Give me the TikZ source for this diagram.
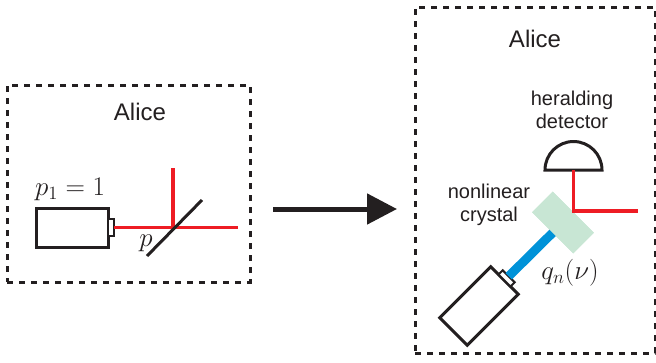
\documentclass[tikz,border=0pt]{standalone}
\usepackage{fontspec}
\setmainfont{Liberation Sans}
\usetikzlibrary{arrows.meta}
\definecolor{beamred}{HTML}{EE1C24}
\definecolor{pumpblue}{HTML}{0092D8}
\definecolor{crystalgreen}{HTML}{C8E6D4}
\definecolor{ink}{HTML}{231F20}
\newcommand{\bigmath}[1]{\scalebox{1.3}{$#1$}}
\begin{document}
\begin{tikzpicture}[x=1pt,y=-1pt,
  dashbox/.style={draw=ink, line width=3pt, dash pattern=on 6pt off 6pt, inner sep=0pt, outer sep=0pt},
  laserbox/.style={draw=ink, line width=3pt, fill=white, minimum width=72pt, minimum height=39pt, inner sep=0pt, outer sep=0pt},
  nub/.style={draw=ink, line width=2pt, fill=white, minimum width=6pt, minimum height=17pt, inner sep=0pt, outer sep=0pt},
  redbeam/.style={draw=beamred, line width=3.5pt},
  bluebeam/.style={draw=pumpblue, line width=9pt},
  crystalbox/.style={fill=crystalgreen, minimum width=58pt, minimum height=29pt, inner sep=0pt},
  bigtext/.style={font=\fontsize{24}{28}\selectfont, text=ink},
  labeltext/.style={font=\fontsize{20}{24}\selectfont, text=ink, align=center},
  mathtext/.style={font=\fontsize{20}{24}\selectfont, text=ink},
]
\useasboundingbox (0,0) rectangle (656,362);

% ---------- left box ----------
\node[dashbox, minimum width=243pt, minimum height=197pt] (boxL) at (128.5,183.5) {};
\node[bigtext] (aliceL) at (140,112) {Alice};
\node[laserbox] (laserL) at (72,227.5) {};
\node[nub, anchor=west] (nubL) at (laserL.east) {};
\coordinate (bsL) at (173,227.5);
\coordinate (endL) at (238,227.5);
\coordinate (upL) at (173,168);
\draw[redbeam] (nubL.east) -- (endL);
\draw[redbeam] (upL) -- (bsL);
\coordinate (bsA) at (147,256);
\coordinate (bsB) at (202,200);
\draw[ink, line width=3pt] (bsA) -- (bsB);
\node[mathtext] (p1) at (70,189) {\bigmath{p_1=1}};
\node[mathtext] (pL) at (146,243) {\bigmath{p}};

% ---------- arrow ----------
\coordinate (arrS) at (273,209);
\coordinate (arrE) at (397,209);
\draw[ink, line width=5pt, -{Triangle[length=30pt, width=30pt]}] (arrS) -- (arrE);

% ---------- right box ----------
\node[dashbox, minimum width=240pt, minimum height=346pt] (boxR) at (535,180) {};
\node[bigtext] (aliceR) at (535,39) {Alice};
\node[labeltext] (herald) at (572,110) {heralding\\[-1pt]detector};
\coordinate (detC) at (573.5,170);
\draw[ink, line width=3pt, fill=white] (detC) ++(-28.5,0) arc[start angle=180, end angle=360, radius=28.5] -- cycle;

\node[laserbox, rotate=45] (laserR) at (479,306) {};
\node[nub, rotate=45, anchor=west] (nubR) at (laserR.east) {};
\node[crystalbox, rotate=-45] (crystal) at (563,222.5) {};
\draw[bluebeam] (nubR.east) -- (crystal.center);
\node[crystalbox, rotate=-45] (crystalTop) at (crystal.center) {};
\coordinate (redC) at (573.5,211);
\coordinate (redE) at (638,211);
\draw[redbeam] (detC) -- (redC) -- (redE);
\node[labeltext] (nlc) at (489,205) {nonlinear\\[-1pt]crystal};
\node[mathtext] (qn) at (570,273) {\bigmath{q_n(\nu)}};
\end{tikzpicture}
\end{document}
